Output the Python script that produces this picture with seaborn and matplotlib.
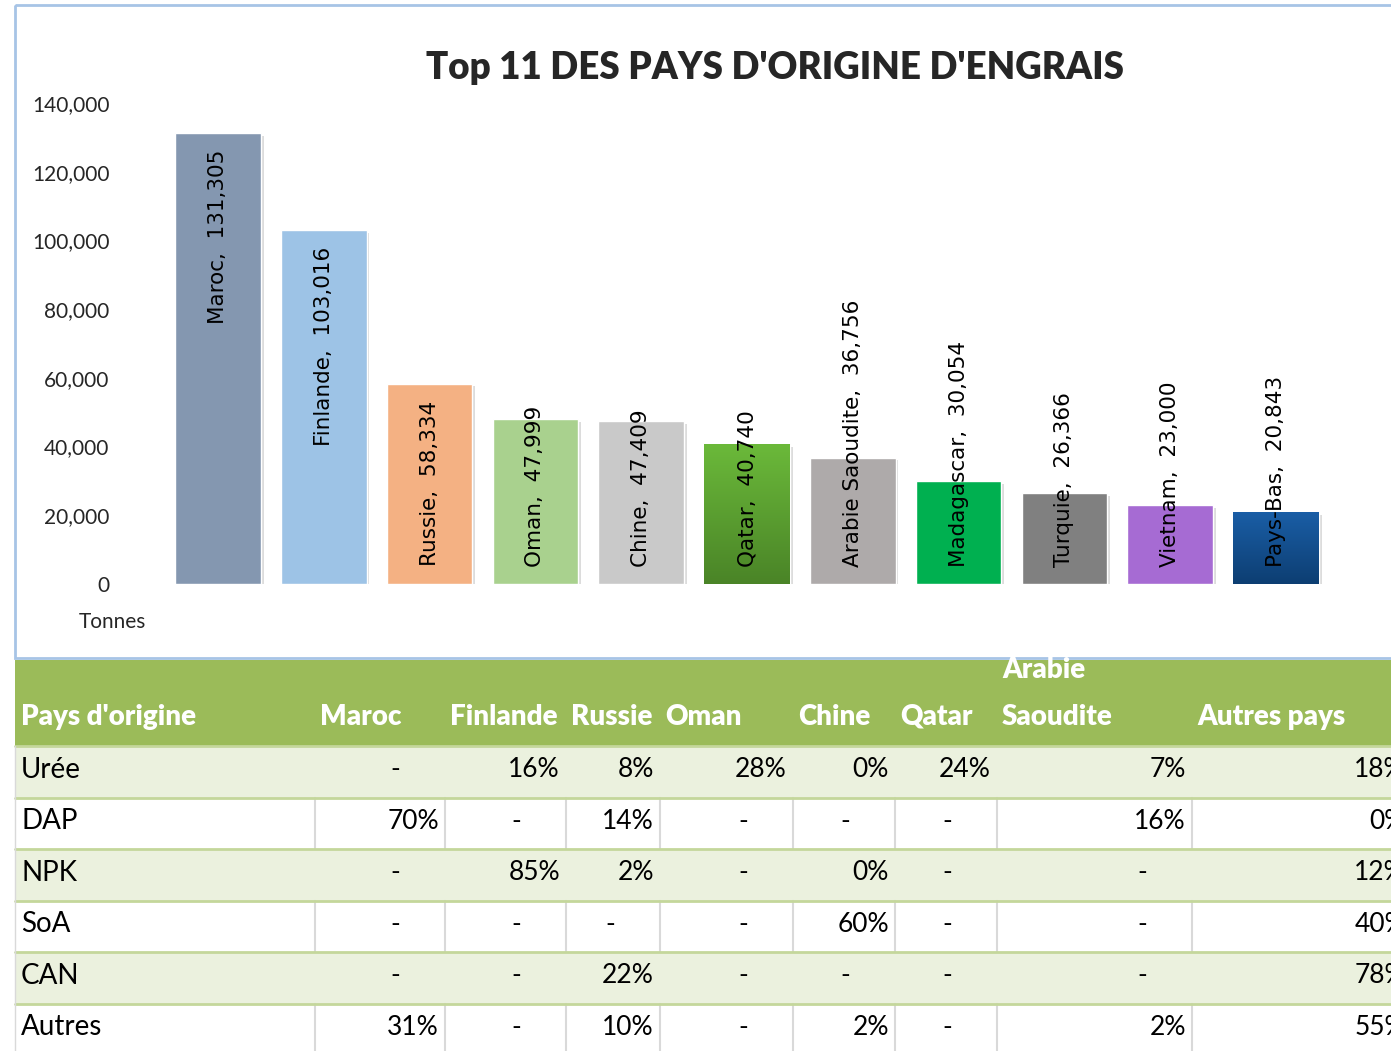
import numpy as np
import matplotlib
matplotlib.use("Agg")
import matplotlib.pyplot as plt
import matplotlib.patheffects as pe
from matplotlib.patches import Rectangle
from matplotlib.colors import LinearSegmentedColormap
import seaborn as sns

# --- bar chart data ---
countries = ["Maroc", "Finlande", "Russie", "Oman", "Chine", "Qatar",
             "Arabie Saoudite", "Madagascar", "Turquie", "Vietnam", "Pays-Bas"]
tonnes = [131305, 103016, 58334, 47999, 47409, 40740,
          36756, 30054, 26366, 23000, 20843]
bar_colors = ["#8497B0", "#9DC3E6", "#F4B183", "#A9D18E", "#C9C9C9", "#5A9E32",
              "#AEAAAA", "#00B050", "#808080", "#A66BD3", "#15508F"]
gradients = {"Qatar": ("#6BB93A", "#4A8427"),
             "Pays-Bas": ("#1A5EA6", "#0D3E72")}
y_ticks = [0, 20000, 40000, 60000, 80000, 100000, 120000, 140000]
title = "Top 11 DES PAYS D'ORIGINE D'ENGRAIS"

# --- table data (None = "-") ---
table_header = "Pays d'origine"
table_cols = ["Maroc", "Finlande", "Russie", "Oman", "Chine", "Qatar",
              "Arabie\nSaoudite", "Autres pays"]
table_rows = ["Urée", "DAP", "NPK", "SoA", "CAN", "Autres"]
uree = [None, 16, 8, 28, 0, 24, 7, 18]
dap = [70, None, 14, None, None, None, 16, 0]
npk = [None, 85, 2, None, 0, None, None, 12]
soa = [None, None, None, None, 60, None, None, 40]
can = [None, None, 22, None, None, None, None, 78]
autres = [31, None, 10, None, 2, None, 2, 55]
table_values = [uree, dap, npk, soa, can, autres]

W, H = 1391, 1051

sns.set_theme(style="white")
plt.rcParams['font.family'] = ['Lato', 'DejaVu Sans']

fig = plt.figure(figsize=(W / 100, H / 100), dpi=100)
fig.patch.set_facecolor("white")

# background axes in pixel coordinates: frame + table
bg = fig.add_axes([0, 0, 1, 1])
bg.set_xlim(0, W)
bg.set_ylim(H, 0)
bg.axis("off")

bg.add_patch(Rectangle((15, 5), W, 653, fill=False, edgecolor="#A7C4E6", lw=2))

col_edges = [15, 315, 445, 566, 660, 793, 895, 997, 1192, 1412]
head_top, head_bot = 660, 746
row_h = 51.5
fs_head = 20
fs_val = 19
fs_row = 20

bg.add_patch(Rectangle((15, head_top), W, head_bot - head_top,
                       facecolor="#9BBB59", edgecolor="none"))
bg.text(21, 717, table_header, ha="left", va="center", color="white",
        fontsize=fs_head, fontweight="heavy")
for j, col in enumerate(table_cols):
    lines = col.split("\n")
    for k, line in enumerate(reversed(lines)):
        bg.text(col_edges[j + 1] + 5, 717 - 47 * k, line, ha="left",
                va="center", color="white", fontsize=fs_head,
                fontweight="heavy")

for r, (name, vals) in enumerate(zip(table_rows, table_values)):
    y0 = head_bot + r * row_h
    shade = r % 2 == 0
    bg.add_patch(Rectangle((15, y0), W, row_h,
                           facecolor="#EBF1DE" if shade else "white",
                           edgecolor="none"))
    if not shade:
        for c in col_edges[1:-1]:
            bg.plot([c, c], [y0, y0 + row_h], color="#D9D9D9", lw=1.5)
    yc = y0 + row_h / 2 - 2
    bg.text(21, yc, name, ha="left", va="center", fontsize=fs_row,
            color="black")
    for j, v in enumerate(vals):
        right = col_edges[j + 2]
        if v is None:
            bg.text(right - 50, yc, "-", ha="center", va="center",
                    fontsize=fs_val, color="black")
        else:
            bg.text(right - 6, yc, f"{v}%", ha="right", va="center",
                    fontsize=fs_val, color="black")
    bg.plot([15, W], [y0, y0], color="#C4D79B", lw=2)
bg.plot([15, 15], [head_bot, H], color="#D9D9D9", lw=1)

# bar chart
ax = fig.add_axes([165 / W, (H - 584) / H, (1329 - 165) / W, (584 - 103) / H])
ax.patch.set_alpha(0)
sns.barplot(x=countries, y=tonnes, hue=countries, palette=bar_colors,
            legend=False, saturation=1, width=0.81, ax=ax)

for p in ax.patches:
    p.set_path_effects([pe.SimplePatchShadow(offset=(2, -2), alpha=0.15,
                                             shadow_rgbFace="k"),
                        pe.Normal()])

for name, p in zip(countries, ax.patches):
    if name in gradients:
        cmap = LinearSegmentedColormap.from_list(name, gradients[name])
        x0, y0 = p.get_x(), p.get_y()
        x1, y1 = x0 + p.get_width(), y0 + p.get_height()
        im = ax.imshow(np.linspace(0, 1, 256).reshape(-1, 1), cmap=cmap,
                       extent=[x0, x1, y0, y1], origin="upper", aspect="auto",
                       zorder=p.get_zorder() + 0.1)
        im.set_clip_path(p)

ax.set_xlim(-0.5, len(countries) - 0.5)
ax.set_ylim(0, 140000)
ax.set_yticks(y_ticks)
ax.set_yticklabels([f"{v:,}" for v in y_ticks])
ax.set_xticks([])
ax.set_xlabel("")
ax.set_ylabel("")
ax.tick_params(axis="y", length=0, pad=40, labelsize=15)
for s in ax.spines.values():
    s.set_visible(False)

# data labels: inside end, pushed up from the base when too long
fig.canvas.draw()
renderer = fig.canvas.get_renderer()
base = ax.transData.transform((0, 0))[1]
for i, (name, v) in enumerate(zip(countries, tonnes)):
    t = ax.annotate(f"{name},  {v:,}", (i, v), xytext=(0, -17),
                    textcoords="offset pixels", rotation=90, ha="center",
                    va="top", fontsize=15.5, family="DejaVu Sans",
                    color="black", zorder=5)
    ext = t.get_window_extent(renderer)
    if ext.y0 < base + 17:
        t.xy = (i, 0)
        t.set_position((0, 17))
        t.set_va("bottom")

fig.text(775 / W, 1 - 68 / H, title, ha="center", va="center",
         fontsize=26.5, fontweight="heavy")
fig.text(112 / W, 1 - 622 / H, "Tonnes", ha="center", va="center",
         fontsize=15)

fig.savefig("out.png", dpi=100)
